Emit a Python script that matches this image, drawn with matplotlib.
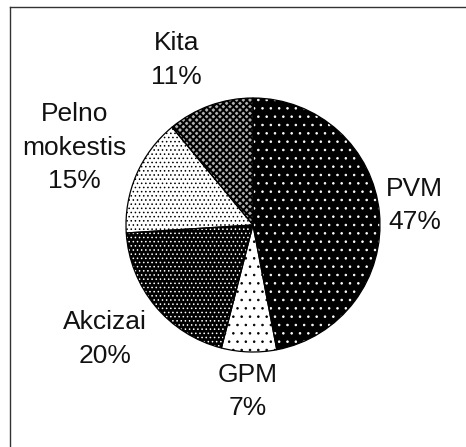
import numpy as np
import matplotlib
matplotlib.use("Agg")
import matplotlib.pyplot as plt
from matplotlib.lines import Line2D

labels = ["PVM", "GPM", "Akcizai", "Pelno\nmokestis", "Kita"]
shares = [47, 7, 20, 15, 11]

# per-slice look: face colour, hatch colour, hatch pattern, hatch width
faces = ["black", "white", "black", "white", "#b0b0b0"]
hatch_cols = ["white", "black", "white", "black", "black"]
hatches = ["..", "..", "....", "....", "xxxxx"]
hatch_lw = [0.6, 0.6, 0.6, 0.6, 1.4]
label_dist = [1.28, 1.31, 1.47, 1.53, 1.43]
label_turn = [1.5, 0, -2, 0, 5]   # small angle nudges, degrees

plt.rcParams["font.family"] = ["Liberation Sans", "DejaVu Sans"]

W, H = 466, 447
fig = plt.figure(figsize=(W / 100, H / 100), dpi=100)
ax = fig.add_axes([0, 0, 1, 1])

cx, cy, r = 253, H - 225, 127

wedges, _ = ax.pie(shares, startangle=90, counterclock=False,
                   center=(cx, cy), radius=r, frame=True)
for w, fc, hc, h, lw in zip(wedges, faces, hatch_cols, hatches, hatch_lw):
    w.set_facecolor(fc)
    w.set_edgecolor(hc)
    w.set_linewidth(0)
    if hasattr(w, "set_hatch_linewidth"):
        w.set_hatch_linewidth(lw)
    w.set_hatch(h)

# outlines on top
ax.pie(shares, startangle=90, counterclock=False,
       center=(cx, cy), radius=r, frame=True,
       wedgeprops=dict(fill=False, edgecolor="black", linewidth=0.9))
ax.set_xlim(0, W)
ax.set_ylim(0, H)
ax.set_aspect("equal")
ax.axis("off")

# labels with percentages placed outside
total = sum(shares)
start = 90.0
for lab, v, d, t in zip(labels, shares, label_dist, label_turn):
    mid = np.deg2rad(start - v / total * 180 + t)
    start -= v / total * 360
    ax.text(cx + d * r * np.cos(mid), cy + d * r * np.sin(mid),
            "{}\n{}%".format(lab, v), ha="center", va="center",
            fontsize=19, linespacing=1.5, color="#111111")

# chart frame (only top and left edges are inside the image)
fig.add_artist(Line2D([9.5 / W, 9.5 / W], [0, 1 - 6.5 / H], color="#333333",
                      linewidth=1.0, transform=fig.transFigure))
fig.add_artist(Line2D([9.5 / W, 1], [1 - 6.5 / H, 1 - 6.5 / H], color="#333333",
                      linewidth=1.0, transform=fig.transFigure))

fig.savefig("out.png", dpi=100, facecolor="white")
